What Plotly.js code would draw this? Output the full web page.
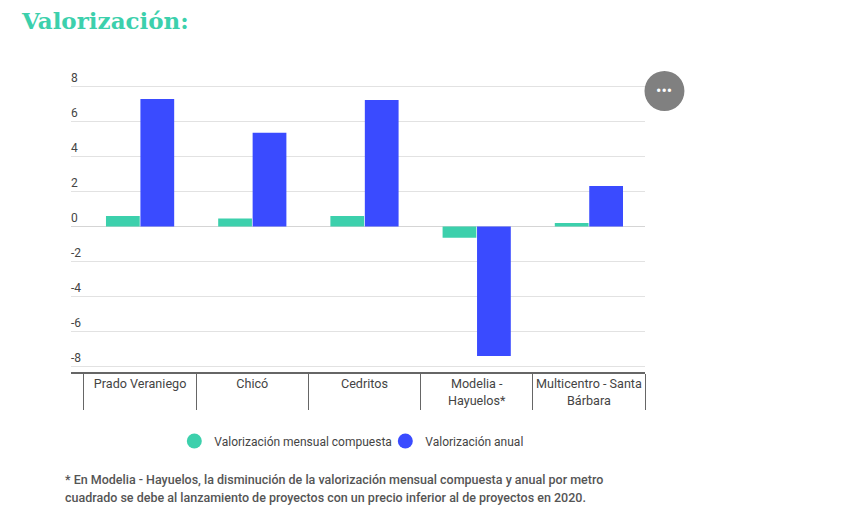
<!DOCTYPE html>
<html>
<head>
<meta charset="utf-8">
<script src="https://cdn.plot.ly/plotly-3.0.1.min.js"></script>
<style>
html,body{margin:0;padding:0;background:#fff;overflow:hidden}
</style>
</head>
<body>
<div id="chart" style="width:842px;height:509px"></div>
<script>
const categories = ['Prado Veraniego', 'Chicó', 'Cedritos', 'Modelia -<br>Hayuelos*', 'Multicentro - Santa<br>Bárbara'];
const mensual = [0.6, 0.45, 0.6, -0.65, 0.2];
const anual = [7.28, 5.35, 7.23, -7.4, 2.31];
const yTicks = [-8, -6, -4, -2, 0, 2, 4, 6, 8];
const nameMensual = 'Valorización mensual compuesta';
const nameAnual = 'Valorización anual';
const footnote = ['* En Modelia - Hayuelos, la disminución de la valorización mensual compuesta y anual por metro',
                  'cuadrado se debe al lanzamiento de proyectos con un precio inferior al de proyectos en 2020.'];
const teal = '#3CD0AC', blue = '#3A4BFF', ink = '#444444';
const W = 842, H = 509, L = 70.5, R = 645.5, T = 50, B = 372;
const px = x => (x - L) / (R - L), py = y => (B - y) / (B - T);
const barTrace = (name, y, color) => ({type:'bar', x:categories, y, name, marker:{color}, showlegend:false, hoverinfo:'skip'});
const keyTrace = (name, color) => ({type:'scatter', mode:'markers', x:[null], y:[null], name, marker:{color, size:15, symbol:'circle'}});
const data = [barTrace(nameMensual, mensual, teal), barTrace(nameAnual, anual, blue), keyTrace(nameMensual, teal), keyTrace(nameAnual, blue)];
const noteLine = (text, yPos) => ({xref:'paper', yref:'paper', x:px(62), y:py(yPos), text:'<span style="font-weight:500">'+text+'</span>', showarrow:false, align:'left', xanchor:'left', yanchor:'middle', font:{size:12.5, color:'#555555'}});
const layout = {
  width:W, height:H, paper_bgcolor:'#fff', plot_bgcolor:'#fff',
  margin:{l:L, r:W-R, t:T, b:H-B, pad:0},
  font:{family:'Roboto, sans-serif', size:12, color:ink},
  title:{text:'<b>Valorización:</b>', font:{family:'"DejaVu Serif", serif', size:23, color:teal}, xref:'container', x:22/W, xanchor:'left', yref:'container', y:1-21/H, yanchor:'middle'},
  barmode:'group', bargap:0.386, bargroupgap:0.02,
  xaxis:{type:'category', range:[-0.5-13/112.4, 4.5], tickson:'boundaries', ticks:'outside', ticklen:36, tickwidth:1, tickcolor:'#666666',
    showline:true, linecolor:'#666666', linewidth:2, showgrid:false, zeroline:false, tickangle:0, ticklabelstandoff:-1, tickfont:{size:12.6, color:ink}, fixedrange:true},
  yaxis:{range:[-8.32, 10.08], tickmode:'array', tickvals:yTicks, ticktext:yTicks.map(String), ticklabelposition:'inside', ticklabelshift:-9, ticklabelstandoff:-3,
    ticks:'', showgrid:true, gridcolor:'#E2E2E2', gridwidth:1, zeroline:true, zerolinecolor:'#D5D5D5', zerolinewidth:1, showline:false, tickfont:{size:12, color:ink}, fixedrange:true},
  legend:{orientation:'h', x:px(174), xanchor:'left', y:py(441), yanchor:'middle', font:{size:12, color:ink}, itemsizing:'trace', itemclick:false, bgcolor:'rgba(0,0,0,0)', entrywidth:166, entrywidthmode:'pixels'},
  shapes:[{type:'circle', xref:'paper', yref:'paper', x0:px(645), x1:px(685), y0:py(111), y1:py(71), fillcolor:'#808080', line:{width:0}}],
  annotations:[
    {xref:'paper', yref:'paper', x:px(665), y:py(91), text:'•••', showarrow:false, font:{size:16, color:'#fff'}, xanchor:'center', yanchor:'middle'},
    noteLine(footnote[0], 479), noteLine(footnote[1], 497)
  ]
};
Plotly.newPlot('chart', data, layout, {displayModeBar:false, responsive:false});
</script>
</body>
</html>
